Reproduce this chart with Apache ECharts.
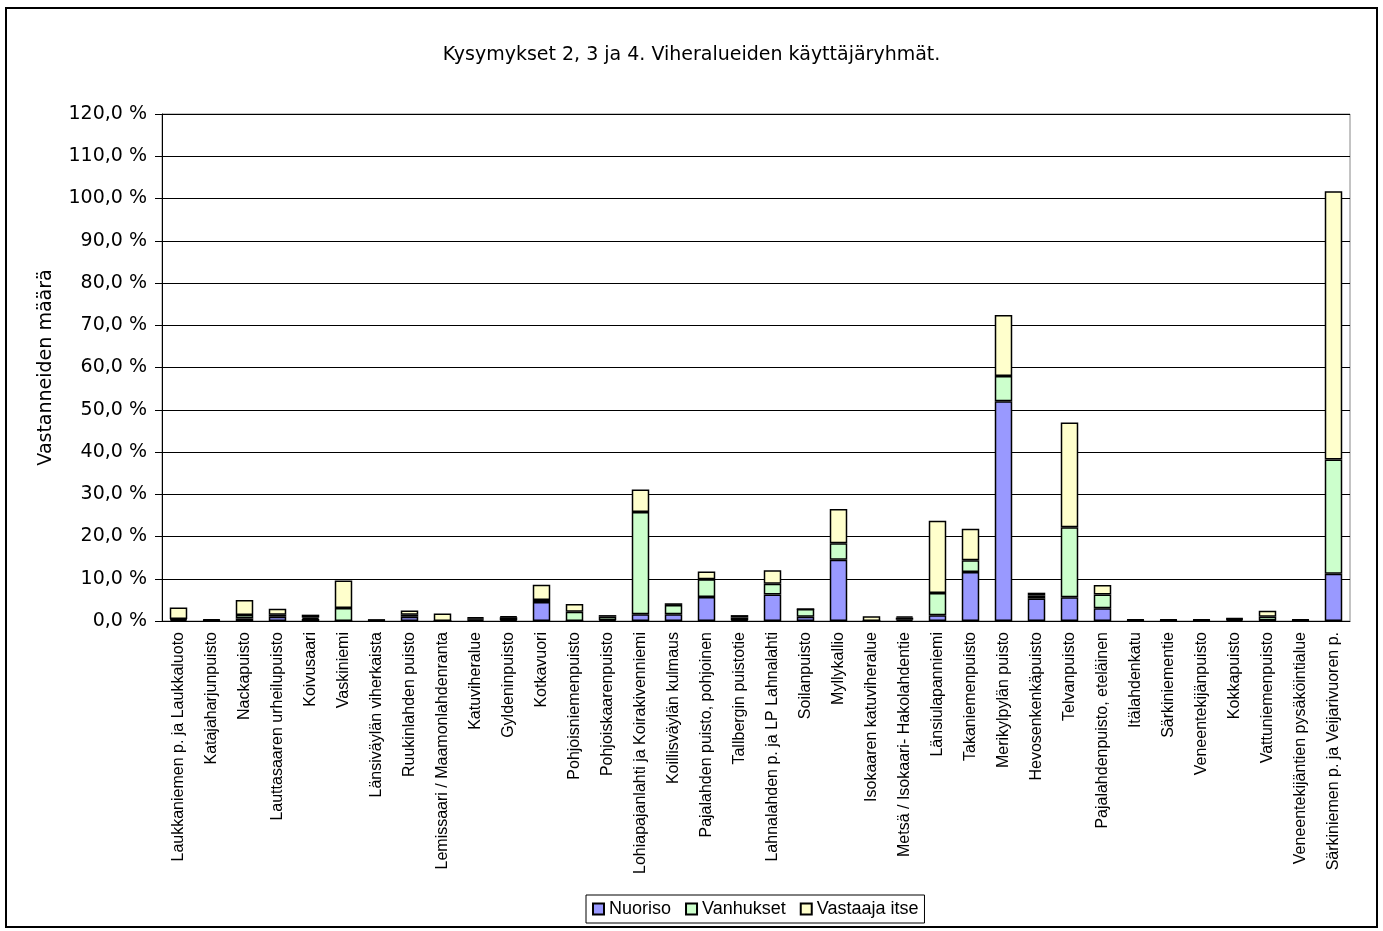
<!DOCTYPE html>
<html>
<head>
<meta charset="utf-8">
<title>Viheralueiden käyttäjäryhmät</title>
<script src="https://cdn.jsdelivr.net/npm/echarts@6/dist/echarts.min.js"></script>
<style>
  html, body { margin: 0; padding: 0; background: #fff; }
  #main { width: 1383px; height: 931px; }
</style>
</head>
<body>
<div id="main"></div>
<script>
// kategoriat (viheralueet)
const alueet = [
  'Laukkaniemen p. ja Laukkaluoto', 'Katajaharjunpuisto', 'Nackapuisto',
  'Lauttasaaren urheilupuisto', 'Koivusaari', 'Vaskiniemi',
  'Länsiväylän viherkaista', 'Ruukinlahden puisto', 'Lemissaari / Maamonlahdenranta',
  'Katuviheralue', 'Gyldeninpuisto', 'Kotkavuori',
  'Pohjoisniemenpuisto', 'Pohjoiskaarenpuisto', 'Lohiapajanlahti ja Koirakivenniemi',
  'Koillisväylän kulmaus', 'Pajalahden puisto, pohjoinen', 'Tallbergin puistotie',
  'Lahnalahden p. ja LP Lahnalahti', 'Soilanpuisto', 'Myllykallio',
  'Isokaaren katuviheralue', 'Metsä / Isokaari- Hakolahdentie', 'Länsiulapanniemi',
  'Takaniemenpuisto', 'Merikylpylän puisto', 'Hevosenkenkäpuisto',
  'Telvanpuisto', 'Pajalahdenpuisto, eteläinen', 'Itälahdenkatu',
  'Särkiniementie', 'Veneentekijänpuisto', 'Kokkapuisto',
  'Vattuniemenpuisto', 'Veneentekijäntien pysäköintialue', 'Särkiniemen p. ja Veijarivuoren p.'
]

// prosenttiosuudet
const nuoriso = [
  0.3, 0.1, 0.6, 1.0, 0.5, 0,
  0.1, 1.0, 0, 0.3, 0.2, 4.5,
  0, 0.2, 1.6, 1.6, 5.7, 0.2,
  6.3, 1.0, 14.5, 0, 0.3, 1.35,
  11.6, 52.0, 5.3, 5.6, 3.0, 0.1,
  0.1, 0.1, 0.3, 0.1, 0.1, 11.2
]
const vanhukset = [
  0.2, 0.1, 0.8, 0.5, 0.3, 3.1,
  0.1, 0.5, 0, 0.3, 0.7, 0.5,
  2.2, 0.8, 24.2, 2.2, 4.2, 0.6,
  2.5, 1.85, 3.9, 0, 0.5, 5.3,
  2.8, 6.0, 0.7, 16.6, 3.3, 0.1,
  0.1, 0.1, 0.2, 0.9, 0.1, 27.0
]
const vastaajaItse = [
  2.7, 0.2, 3.6, 1.4, 0.7, 6.5,
  0.1, 1.0, 1.8, 0.3, 0.2, 3.6,
  1.8, 0.4, 5.3, 0.4, 1.8, 0.6,
  3.2, 0, 8.1, 1.1, 0.3, 17.05,
  7.45, 14.4, 0.7, 24.8, 2.2, 0.15,
  0.15, 0.15, 0.2, 1.4, 0.15, 63.5
]

const sarjat = ['Nuoriso', 'Vanhukset', 'Vastaaja itse']
const varit = ['#9999FF', '#CCFFCC', '#FFFFCC']

var myChart = echarts.init(document.getElementById('main'))

function pylvas(nimi, data, vari) {
  return {
    name: nimi,
    type: 'bar',
    stack: 'yht',
    barCategoryGap: '47%',
    data: data,
    itemStyle: { color: vari, borderColor: '#000', borderWidth: 1.5 },
    emphasis: { disabled: true }
  }
}

var option = {
  animation: false,
  backgroundColor: '#fff',
  textStyle: { fontFamily: 'DejaVu Sans' },
  title: {
    text: 'Kysymykset 2, 3 ja 4. Viheralueiden käyttäjäryhmät.',
    left: 'center',
    top: 41,
    textStyle: { fontSize: 19, fontWeight: 'normal', color: '#000', fontFamily: 'DejaVu Sans' }
  },
  legend: {
    data: sarjat,
    bottom: 8,
    left: 586,
    itemWidth: 11,
    itemHeight: 11,
    itemGap: 14,
    padding: [5, 6, 5, 6],
    borderColor: '#000',
    borderWidth: 1,
    icon: 'rect',
    textStyle: { fontSize: 18, color: '#000', fontFamily: 'Liberation Sans', padding: [0, 0, 0, 0] }
  },
  grid: {
    left: 162,
    right: 33,
    top: 114,
    bottom: 310,
    show: true,
    borderColor: '#888',
    borderWidth: 1
  },
  xAxis: {
    type: 'category',
    data: alueet,
    axisLine: { lineStyle: { color: '#000', width: 1 } },
    axisTick: { length: 5, lineStyle: { color: '#000' } },
    axisLabel: {
      interval: 0,
      rotate: 90,
      margin: 11,
      fontSize: 16,
      color: '#000',
      fontFamily: 'Liberation Sans'
    }
  },
  yAxis: {
    type: 'value',
    min: 0,
    max: 120,
    interval: 10,
    name: 'Vastanneiden määrä',
    nameLocation: 'middle',
    nameGap: 106,
    nameTextStyle: { fontSize: 19, color: '#000' },
    axisLine: { show: true, lineStyle: { color: '#000', width: 1 } },
    axisTick: { show: true, length: 7, lineStyle: { color: '#000' } },
    splitLine: { lineStyle: { color: '#000', width: 1 } },
    axisLabel: {
      fontSize: 19,
      color: '#000',
      margin: 15,
      formatter: function(v) {
        return v.toFixed(1).replace('.', ',') + ' %'
      }
    }
  },
  graphic: [
    {
      type: 'rect',
      shape: { x: 6, y: 8, width: 1371, height: 919 },
      style: { fill: 'none', stroke: '#000', lineWidth: 2 },
      silent: true
    }
  ],
  series: [
    pylvas(sarjat[0], nuoriso, varit[0]),
    pylvas(sarjat[1], vanhukset, varit[1]),
    pylvas(sarjat[2], vastaajaItse, varit[2])
  ]
}

myChart.setOption(option)
</script>
</body>
</html>
